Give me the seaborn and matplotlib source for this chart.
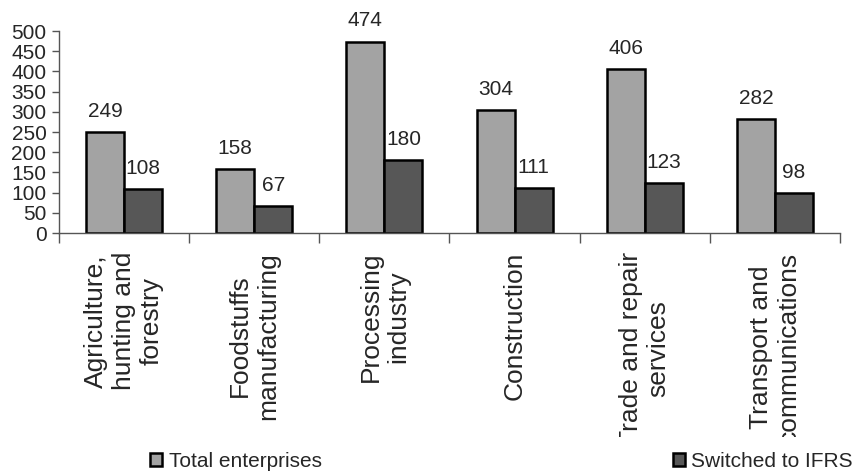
import matplotlib
matplotlib.use("Agg")
import matplotlib.pyplot as plt
import matplotlib.patches as mpatches
from matplotlib.transforms import Bbox, TransformedBbox
import seaborn as sns
import pandas as pd

sectors = ["Agriculture,\nhunting and\nforestry", "Foodstuffs\nmanufacturing",
           "Processing\nindustry", "Construction",
           "Trade and repair\nservices", "Transport and\ncommunications"]
total_enterprises = [249, 158, 474, 304, 406, 282]
switched_ifrs = [108, 67, 180, 111, 123, 98]
series_names = ["Total enterprises", "Switched to IFRS"]
yticks = list(range(0, 501, 50))

df = pd.DataFrame({
    "sector": sectors * 2,
    "count": total_enterprises + switched_ifrs,
    "series": [series_names[0]] * len(sectors) + [series_names[1]] * len(sectors),
})

sns.set_theme(style="white")
plt.rcParams["font.family"] = ["Liberation Sans", "DejaVu Sans"]

colors = ["#a3a3a3", "#575757"]

fig = plt.figure(figsize=(8.54, 4.73), dpi=100)
ax = fig.add_axes([59 / 854, 1 - 233 / 473, (840 - 59) / 854, (233 - 31) / 473])

sns.barplot(data=df, x="sector", y="count", hue="series", palette=colors,
            edgecolor="black", linewidth=1.8, width=0.585, ax=ax,
            legend=False, saturation=1)

for cont in ax.containers:
    ax.bar_label(cont, padding=8, fontsize=15)

ax.set_ylim(0, 500)
ax.set_xlim(-0.5, len(sectors) - 0.5)
ax.set_yticks(yticks)
ax.set_xlabel("")
ax.set_ylabel("")

for s in ["top", "right"]:
    ax.spines[s].set_visible(False)
for s in ["left", "bottom"]:
    ax.spines[s].set_color("#555555")
    ax.spines[s].set_linewidth(1.0)

ax.tick_params(axis="y", which="major", direction="out", length=5, width=1,
               color="#555555", labelsize=15, pad=4, left=True)
ax.tick_params(axis="x", which="major", length=0, pad=13.5)
ax.set_xticks([i - 0.5 for i in range(len(sectors) + 1)], minor=True)
ax.tick_params(axis="x", which="minor", direction="out", length=7, width=1,
               color="#555555", bottom=True)

ax.set_xticks(range(len(sectors)))
ax.set_xticklabels(sectors, rotation=90, fontsize=19, va="top", ha="center",
                   multialignment="center")

# Labels are cut off at the bottom in the source chart
clip = TransformedBbox(Bbox([[0, 1 - 437 / 473], [1, 1]]), fig.transFigure)
for lab in ax.get_xticklabels():
    lab.set_clip_on(True)
    lab.set_clip_box(clip)

handles = [mpatches.Patch(facecolor=c, edgecolor="black", linewidth=1.8) for c in colors]
leg_kw = dict(frameon=False, fontsize=15, handlelength=0.6, handleheight=0.6,
              handletextpad=0.3, borderpad=0, borderaxespad=0)
fig.legend(handles=[handles[0]], labels=[series_names[0]], loc="center left",
           bbox_to_anchor=(150 / 854, 1 - 461 / 473), **leg_kw)
fig.legend(handles=[handles[1]], labels=[series_names[1]], loc="center right",
           bbox_to_anchor=(853 / 854, 1 - 461 / 473), **leg_kw)

fig.savefig("out.png", dpi=100)
